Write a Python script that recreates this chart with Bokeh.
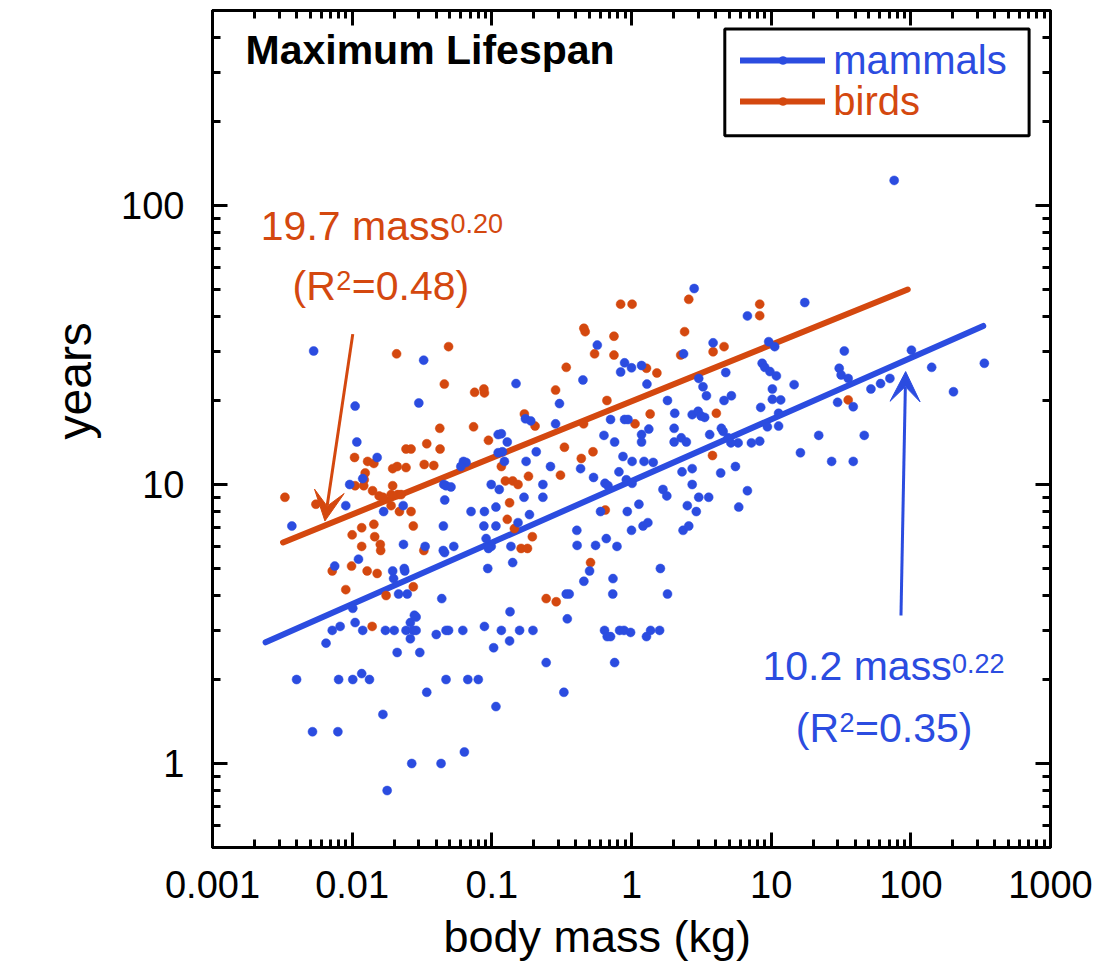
import numpy as np
from bokeh.plotting import figure
from bokeh.models import (LogAxis, FixedTicker, CustomJSTickFormatter, Label, Arrow, VeeHead,
                          Legend, LegendItem, BoxAnnotation, Range1d, Title)
from bokeh.embed import file_html
from bokeh.resources import INLINE

BLUE = "#2B4CE0"
ORANGE = "#D4480F"
FONT = "Liberation Sans"

# ---------------- data ----------------
mammal_mass = [
    0.0105, 0.030, 0.0108, 0.0151, 0.0119, 0.0096, 0.009, 0.0037, 0.0168, 0.0232,
    0.0453, 0.047, 0.046, 0.0626, 0.0654, 0.060, 0.111, 0.111, 0.099, 0.071,
    0.0885, 0.107, 0.0877, 0.107, 0.045, 0.0233, 0.0333, 0.0449, 0.0459, 0.0534,
    0.091, 0.099, 0.0945, 0.0935, 0.0075, 0.0111, 0.0195, 0.0198, 0.0236, 0.0238,
    0.0215, 0.0248, 0.0438, 0.0101, 0.0279, 0.0105, 0.0072, 0.0082, 0.0119, 0.0173,
    0.020, 0.0243, 0.0261, 0.0287, 0.0273, 0.0287, 0.0261, 0.040, 0.047, 0.049,
    0.062, 0.0885, 0.117, 0.103, 0.0065, 0.021, 0.0305, 0.0040, 0.0080, 0.0101,
    0.0117, 0.0133, 0.047, 0.0673, 0.080, 0.0342, 0.0166, 0.107, 0.0052, 0.0079,
    0.0636, 0.0267, 0.0433, 0.0178,
    2.81, 6.76, 0.569, 3.84, 2.36, 0.892, 1.0, 0.836, 1.18, 1.29,
    0.449, 0.149, 3.03, 3.25, 3.44, 4.73, 4.6, 5.19, 1.81, 0.305,
    2.04, 2.72, 3.0, 3.15, 0.708, 0.892, 0.944, 0.286, 0.174, 0.19,
    1.33, 2.02, 0.117, 0.129, 0.635, 1.18, 1.18, 0.757, 2.02, 2.27,
    2.47, 3.63, 4.53, 4.92, 5.8, 0.119, 0.123, 0.208, 0.176, 0.869,
    1.23, 1.43, 0.263, 0.432, 1.01, 0.813, 2.3, 2.72, 5.55, 4.35,
    0.535, 0.646, 0.679, 0.918, 1.01, 0.113, 0.232, 0.232, 0.17, 1.68,
    1.79, 2.72, 3.03, 3.57, 6.76, 0.051, 0.186, 0.154, 0.60, 0.933,
    1.13, 2.51, 2.91, 5.86, 0.137, 0.406, 0.408, 0.553, 0.66, 0.787,
    1.0, 1.21, 1.31, 2.34, 2.57, 0.141, 0.501, 0.456, 0.737, 1.61,
    0.341, 0.358, 0.734, 1.81, 0.135, 0.347, 0.158, 0.197, 0.134, 0.641,
    0.67, 0.708, 0.822, 0.884, 1.37, 1.59, 0.985, 1.28, 0.245, 0.757,
    0.328,
    76, 17.4, 9.6, 10.6, 8.62, 9.0, 9.8, 10.9, 14.6, 10.2,
    10.2, 11.7, 8.42, 33.4, 30.7, 31.7, 35.6, 29.9, 38.7, 51.8,
    60.7, 70.8, 101, 141, 202, 336, 3.34, 4.4, 5.15, 7.22,
    8.28, 9.4, 11.3, 11.3, 21.9, 46.4, 16.2, 27.1, 38.7,
    0.0053, 0.0325,
]
mammal_years = [
    19.1, 19.6, 14.2, 12.5, 10.5, 10.0, 8.4, 7.1, 8.0, 8.4,
    10.0, 9.9, 8.8, 12.1, 12.0, 11.6, 15.1, 13.0, 10.0, 8.0,
    8.0, 8.3, 7.1, 7.1, 7.1, 6.1, 6.0, 5.8, 5.7, 6.0,
    6.4, 6.0, 5.9, 5.0, 5.1, 5.4, 4.9, 4.6, 5.0, 4.9,
    4.05, 4.05, 3.9, 3.6, 3.4, 3.2, 3.0, 3.1, 3.0, 3.0,
    3.0, 3.0, 3.2, 3.35, 3.0, 3.0, 2.8, 2.9, 3.0, 3.0,
    3.0, 3.1, 3.0, 2.6, 2.7, 2.5, 2.5, 2.0, 2.0, 2.0,
    2.1, 2.0, 2.0, 2.0, 2.0, 1.8, 1.5, 1.6, 1.3, 1.3,
    1.1, 1.0, 1.0, 0.8,
    50.4, 40.2, 31.6, 32.2, 29.4, 27.3, 26.2, 25.3, 26.7, 22.9,
    23.7, 23.0, 24.0, 22.4, 20.8, 25.2, 20.0, 20.8, 20.0, 19.5,
    18.0, 17.8, 18.3, 17.6, 17.1, 17.1, 17.1, 16.5, 17.2, 16.9,
    15.8, 15.9, 15.2, 14.2, 15.0, 15.1, 14.2, 14.2, 14.2, 14.7,
    14.2, 15.1, 15.5, 14.7, 14.1, 13.1, 12.1, 13.1, 12.1, 12.6,
    12.1, 12.0, 11.6, 11.4, 12.1, 11.1, 11.1, 11.4, 11.6, 11.0,
    10.6, 10.1, 9.9, 10.4, 10.1, 9.6, 10.0, 9.0, 9.0, 9.6,
    9.1, 10.0, 9.0, 9.0, 9.5, 9.8, 7.8, 7.3, 8.0, 8.0,
    8.5, 8.4, 8.0, 8.3, 6.0, 6.85, 6.05, 6.05, 6.4, 6.0,
    6.85, 7.1, 7.3, 6.85, 7.1, 5.25, 4.9, 4.5, 4.6, 5.0,
    4.05, 4.05, 4.05, 4.05, 3.5, 3.3, 3.0, 3.0, 2.75, 3.0,
    2.85, 2.85, 3.0, 3.0, 3.0, 3.0, 2.95, 2.85, 2.3, 2.3,
    1.8,
    123, 44.9, 32.5, 31.2, 27.2, 26.3, 25.4, 24.5, 22.8, 22.0,
    20.2, 20.1, 18.9, 30.1, 26.1, 24.7, 24.0, 19.7, 19.0, 22.0,
    23.0, 24.0, 30.3, 26.3, 21.5, 27.2, 17.4, 15.9, 14.1, 14.1,
    14.3, 16.1, 16.2, 18.0, 15.0, 15.0, 13.0, 12.1, 12.1,
    30.1, 27.9,
]

bird_mass = [
    0.0033, 0.0055, 0.0104, 0.0129, 0.0143, 0.0124, 0.0122, 0.0105, 0.0121, 0.014,
    0.0156, 0.0166, 0.0195, 0.021, 0.0243, 0.0195, 0.019, 0.0212, 0.0224, 0.019,
    0.0218, 0.0264, 0.0274, 0.010, 0.0117, 0.0143, 0.0145, 0.0117, 0.0159, 0.016,
    0.0072, 0.0099, 0.0128, 0.0151, 0.009, 0.0175, 0.0274, 0.0326, 0.0243, 0.0264,
    0.0342, 0.0426, 0.0424, 0.074, 0.0946, 0.0457, 0.0753, 0.0877, 0.0885, 0.0328,
    0.0384, 0.0139, 0.049, 0.0208,
    0.836, 1.01, 2.57, 0.456, 0.466, 0.749, 0.544, 0.749, 0.341, 2.4,
    2.25, 3.84, 4.6, 1.28, 1.52, 0.286, 0.667, 0.171, 0.204, 0.454,
    1.06, 1.36, 4.05, 0.331, 0.437, 0.53, 0.117, 0.31, 0.183, 0.125,
    0.141, 0.154, 0.134, 0.129, 0.145, 0.195, 0.162, 0.18, 0.649, 0.509,
    0.245, 0.289, 3.8, 8.28, 8.28, 35.6,
]
bird_years = [
    9.0, 8.5, 12.5, 12.1, 11.9, 11.0, 10.4, 9.9, 9.9, 9.5,
    9.1, 9.0, 11.4, 11.6, 11.5, 9.9, 9.2, 9.2, 9.2, 8.4,
    8.0, 8.0, 7.1, 6.6, 7.0, 7.2, 6.5, 6.0, 6.1, 5.8,
    4.9, 5.1, 4.9, 4.8, 4.2, 4.0, 4.3, 5.8, 13.4, 13.4,
    14.0, 13.4, 15.9, 16.1, 14.4, 22.9, 21.4, 22.0, 21.3, 11.8,
    11.7, 3.1, 31.2, 29.4,
    44.3, 44.3, 46.1, 36.3, 35.3, 34.0, 29.4, 29.1, 26.3, 35.3,
    29.1, 29.9, 31.2, 26.1, 25.1, 21.8, 20.0, 17.9, 16.2, 16.5,
    16.5, 17.9, 18.0, 13.6, 12.4, 13.1, 11.6, 10.8, 10.7, 10.3,
    10.3, 10.0, 8.6, 7.5, 6.95, 6.5, 5.9, 5.9, 8.1, 5.25,
    3.9, 3.8, 12.7, 44.3, 40.3, 20.1,
]

# fitted power-law lines (end points)
mammal_fit_mass = [0.0024, 330]
mammal_fit_years = [2.72, 37.0]
bird_fit_mass = [0.0032, 95]
bird_fit_years = [6.2, 50.0]

# annotation arrows (mass, years)
bird_arrow = dict(x_start=0.0101, y_start=34.6, x_end=0.00638, y_end=7.4)
mammal_arrow = dict(x_start=85.0, y_start=3.39, x_end=91.8, y_end=25.4)

x_ticks = [0.001, 0.01, 0.1, 1, 10, 100, 1000]
y_ticks = [1, 10, 100]
x_minor = [m * 10.0 ** e for e in range(-3, 3) for m in range(2, 10)]
y_minor = [m * 10.0 ** e for e in range(-1, 3) for m in range(2, 10)]

# ---------------- figure ----------------
p = figure(frame_width=838, frame_height=837,
           min_border_left=212, min_border_right=49, min_border_top=10, min_border_bottom=118,
           x_axis_type="log", y_axis_type="log",
           x_range=Range1d(0.001, 1000), y_range=Range1d(0.5, 500),
           output_backend="svg", toolbar_location=None)
p.grid.visible = False
p.outline_line_color = "black"
p.outline_line_width = 3
p.background_fill_color = "white"
p.border_fill_color = "white"

xt = FixedTicker(ticks=x_ticks, minor_ticks=x_minor)
yt = FixedTicker(ticks=y_ticks, minor_ticks=y_minor)
fmt = CustomJSTickFormatter(code="return tick.toString();")
blank = CustomJSTickFormatter(code="return '';")


def style(ax, show):
    ax.major_tick_in = 15
    ax.major_tick_out = 0
    ax.minor_tick_in = 8
    ax.minor_tick_out = 0
    ax.axis_line_width = 3
    ax.major_tick_line_width = 3
    ax.minor_tick_line_width = 3
    ax.major_label_text_font = FONT
    ax.major_label_text_color = "black"
    if show:
        ax.major_label_text_font_size = "38px"
    else:
        ax.major_label_text_font_size = "0px"
        ax.major_label_standoff = 0


p.xaxis.ticker = xt
p.xaxis.formatter = fmt
p.yaxis.ticker = yt
p.yaxis.formatter = fmt
style(p.xaxis[0], True)
style(p.yaxis[0], True)
p.xaxis.major_label_standoff = 23
p.yaxis.major_label_standoff = 28

top_ax = LogAxis(ticker=xt, formatter=blank)
style(top_ax, False)
p.add_layout(top_ax, "above")
right_ax = LogAxis(ticker=yt, formatter=blank)
style(right_ax, False)
p.add_layout(right_ax, "right")

# axis titles (as side-panel titles so they can sit off-centre like the original)
p.add_layout(Title(text="body mass (kg)", align="left", offset=231, standoff=16,
                   text_font=FONT, text_font_size="45px", text_font_style="normal",
                   text_color="black"), "below")
p.add_layout(Title(text="years", align="left", offset=408, standoff=36,
                   text_font=FONT, text_font_size="48px", text_font_style="normal",
                   text_color="black"), "left")

# ---------------- glyphs ----------------
bl = p.line(bird_fit_mass, bird_fit_years, line_color=ORANGE, line_width=6, line_cap="round")
ml = p.line(mammal_fit_mass, mammal_fit_years, line_color=BLUE, line_width=6, line_cap="round")
bs = p.scatter(bird_mass, bird_years, size=9, fill_color=ORANGE, line_color=ORANGE, line_width=0.5)
ms = p.scatter(mammal_mass, mammal_years, size=9, fill_color=BLUE, line_color=BLUE, line_width=0.5)

p.add_layout(Arrow(end=VeeHead(size=30, fill_color=ORANGE, line_color=ORANGE),
                   line_color=ORANGE, line_width=3, **bird_arrow))
p.add_layout(Arrow(end=VeeHead(size=30, fill_color=BLUE, line_color=BLUE),
                   line_color=BLUE, line_width=3, **mammal_arrow))


def lab(text, x, y, size, color, **kw):
    p.add_layout(Label(x=x, y=y, x_units="screen", y_units="screen", text=text,
                       text_font=FONT, text_font_size=size, text_color=color, **kw))


# title
lab("Maximum Lifespan", 33, 775, "41px", "black", text_font_style="bold")
# bird fit annotation
lab("19.7 mass", 48.3, 598.4, "41px", ORANGE)
lab("0.20", 238.0, 614.4, "27px", ORANGE)
lab("(R", 80.0, 538.4, "41px", ORANGE)
lab("2", 123.8, 557.4, "27px", ORANGE)
lab("=0.48)", 139.3, 538.4, "41px", ORANGE)
# mammal fit annotation
lab("10.2 mass", 550.0, 158.4, "41px", BLUE)
lab("0.22", 739.5, 174.4, "27px", BLUE)
lab("(R", 583.3, 96.7, "41px", BLUE)
lab("2", 627.0, 115.7, "27px", BLUE)
lab("=0.35)", 642.5, 96.7, "41px", BLUE)

# ---------------- legend ----------------
p.add_layout(BoxAnnotation(left=512.3, right=816.6, top=818.4, bottom=711.7,
                           left_units="screen", right_units="screen",
                           top_units="screen", bottom_units="screen",
                           fill_color="white", fill_alpha=1.0,
                           line_color="black", line_alpha=1.0, line_width=3))


def leg(name, rends, color, y):
    lg = Legend(items=[LegendItem(label=name, renderers=rends)], location=(528.3, y),
                label_text_color=color, label_text_font=FONT, label_text_font_size="40px",
                border_line_color=None, background_fill_alpha=0.0, padding=0, margin=0,
                glyph_width=85, glyph_height=20, label_standoff=8)
    p.add_layout(lg, "center")


leg("mammals", [ml, ms], BLUE, 764.5)
leg("birds", [bl, bs], ORANGE, 723.2)

open("out.html", "w").write(file_html(p, INLINE))
